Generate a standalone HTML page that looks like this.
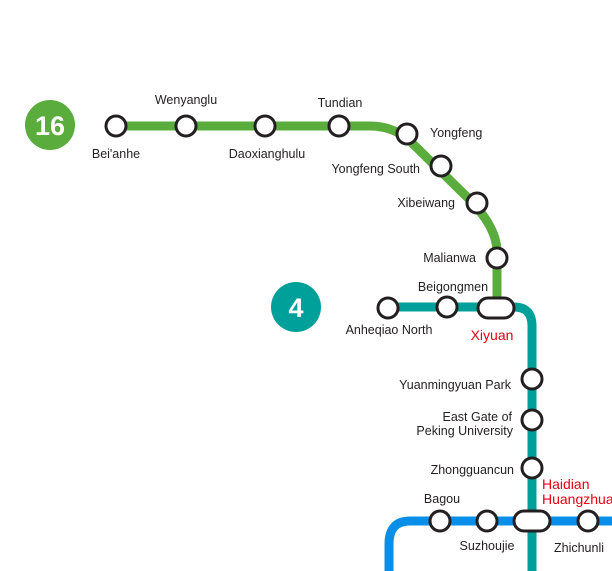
<!DOCTYPE html>
<html><head><meta charset="utf-8"><style>
html,body{margin:0;padding:0;background:#fff;}
svg{display:block;}
text{font-family:"Liberation Sans",sans-serif;font-size:12.5px;fill:#231f20;}
.r{fill:#e60012;font-size:14px;}
</style></head><body>
<svg width="612" height="571" viewBox="0 0 612 571">
<g fill="none" stroke-linecap="butt">
<path d="M116,126 H370 Q393,126 410,141 L468,198 Q497,227 497,252 V300" stroke="#5aac3c" stroke-width="9"/>
<path d="M388,307 H514 Q532,307 532,326 V571" stroke="#00a09a" stroke-width="9"/>
<path d="M612,521 H410 Q389,521 389,544 V571" stroke="#0a8fe8" stroke-width="9"/>
</g>
<circle cx="50" cy="125" r="25" fill="#5aac3c"/>
<text x="50" y="135" text-anchor="middle" style="font-size:27px;fill:#fff;font-weight:bold">16</text>
<circle cx="296" cy="307" r="25" fill="#00a09a"/>
<text x="296" y="317" text-anchor="middle" style="font-size:27px;fill:#fff;font-weight:bold">4</text>
<g fill="#fff" stroke="#231f20" stroke-width="3">
<circle cx="116" cy="126" r="10"/><circle cx="186" cy="126" r="10"/><circle cx="265" cy="126" r="10"/><circle cx="339" cy="126" r="10"/>
<circle cx="407" cy="134" r="10"/><circle cx="441" cy="166" r="10"/><circle cx="477" cy="203" r="10"/><circle cx="497" cy="258" r="10"/>
<circle cx="388" cy="308" r="10"/><circle cx="447" cy="307" r="10"/>
<rect x="478" y="298" width="36" height="20" rx="10"/>
<circle cx="532" cy="379" r="10"/><circle cx="532" cy="420" r="10"/><circle cx="532" cy="468" r="10"/>
<rect x="514" y="511" width="36" height="20" rx="10"/>
<circle cx="440" cy="521" r="10"/><circle cx="487" cy="521" r="10"/><circle cx="588" cy="521" r="10"/>
</g>
<text x="116" y="158" text-anchor="middle">Bei'anhe</text>
<text x="186" y="104" text-anchor="middle">Wenyanglu</text>
<text x="267" y="158" text-anchor="middle">Daoxianghulu</text>
<text x="340" y="107" text-anchor="middle">Tundian</text>
<text x="430" y="137">Yongfeng</text>
<text x="420" y="173" text-anchor="end">Yongfeng South</text>
<text x="455" y="207" text-anchor="end">Xibeiwang</text>
<text x="476" y="262" text-anchor="end">Malianwa</text>
<text x="453" y="291" text-anchor="middle">Beigongmen</text>
<text x="389" y="334" text-anchor="middle">Anheqiao North</text>
<text x="492" y="340" text-anchor="middle" class="r">Xiyuan</text>
<text x="511" y="389" text-anchor="end">Yuanmingyuan Park</text>
<text x="512" y="421" text-anchor="end">East Gate of</text>
<text x="513" y="435" text-anchor="end">Peking University</text>
<text x="514" y="474" text-anchor="end">Zhongguancun</text>
<text x="542" y="489" class="r">Haidian</text>
<text x="542" y="504" class="r">Huangzhuang</text>
<text x="442" y="503" text-anchor="middle">Bagou</text>
<text x="487" y="550" text-anchor="middle">Suzhoujie</text>
<text x="579" y="552" text-anchor="middle">Zhichunli</text>
</svg>
</body></html>
